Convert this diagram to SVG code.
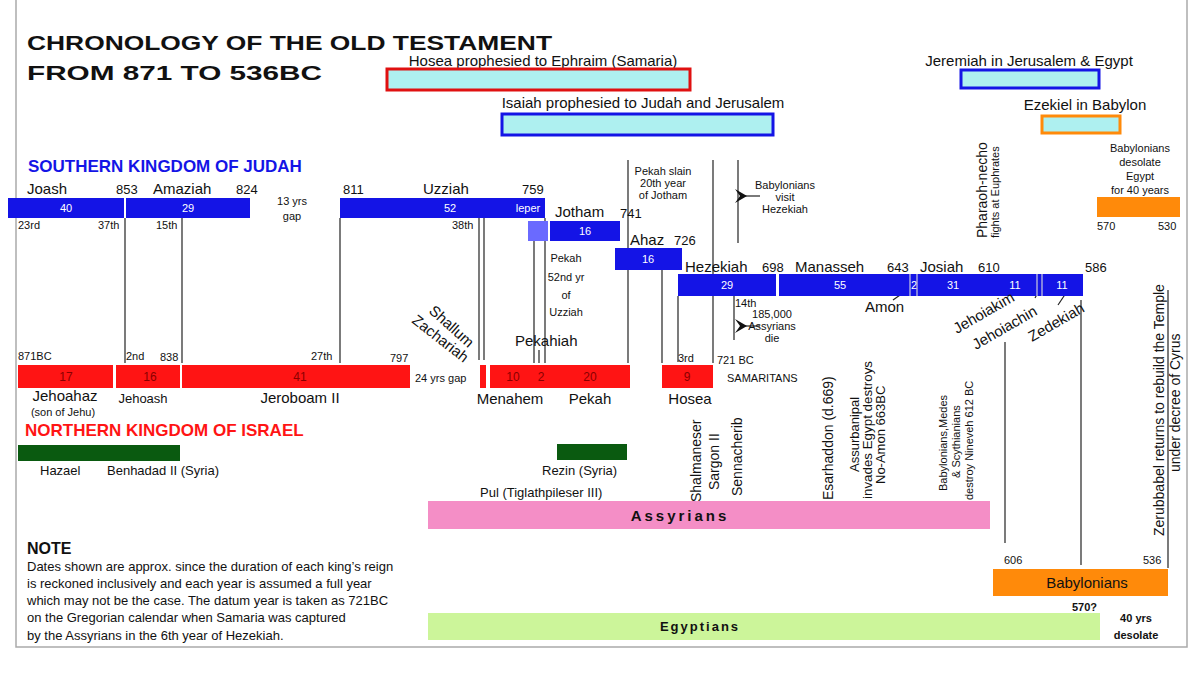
<svg xmlns="http://www.w3.org/2000/svg" width="1200" height="683" viewBox="0 0 1200 683">
<style>
text{font-family:"Liberation Sans",Arial,sans-serif;fill:#111}
.t{font-size:13px}.s{font-size:11px}.m{font-size:15px}.v{font-size:14px}
.b{font-weight:bold}
.w{fill:#fff;font-size:11px;text-anchor:middle}
.r{fill:#8a0000;font-size:12px;text-anchor:middle}
.c{text-anchor:middle}
.jb{fill:#1414e6}.ib{fill:#ff1414}
line{stroke:#222;stroke-width:1.2}
</style>
<defs><marker id="ah" markerWidth="12" markerHeight="14" refX="2" refY="7" orient="auto" markerUnits="userSpaceOnUse"><path d="M12,0 L0,7 L12,14 L7,7 z" fill="#111"/></marker></defs>
<rect x="0" y="0" width="1200" height="683" fill="#fff"/>
<rect x="16" y="-5" width="1171" height="652" fill="none" stroke="#aaa" stroke-width="1.5"/>
<g id="title"><text x="27" y="50" class="b" font-size="21" textLength="525" lengthAdjust="spacingAndGlyphs">CHRONOLOGY OF THE OLD TESTAMENT</text><text x="27" y="80" class="b" font-size="21" textLength="295" lengthAdjust="spacingAndGlyphs">FROM 871 TO 536BC</text></g>
<g id="prophets">
<text x="543" y="66" class="m c">Hosea prophesied to Ephraim (Samaria)</text><rect x="387" y="69" width="303" height="21" fill="#aef0f0" stroke="#e01010" stroke-width="3"/>
<text x="643" y="108" class="m c">Isaiah prophesied to Judah and Jerusalem</text><rect x="502" y="114" width="271" height="21" fill="#aef0f0" stroke="#1414e6" stroke-width="3"/>
<text x="1029" y="66" class="m c">Jeremiah in Jerusalem &amp; Egypt</text><rect x="961" y="70" width="138" height="18" fill="#aef0f0" stroke="#1414e6" stroke-width="3"/>
<text x="1085" y="110" class="m c">Ezekiel in Babylon</text><rect x="1042" y="116" width="78" height="17" fill="#aef0f0" stroke="#ff8a0a" stroke-width="3"/>
</g>
<g id="connectors">
<line x1="125" y1="218" x2="125" y2="363"/><line x1="182" y1="218" x2="182" y2="363"/><line x1="340" y1="218" x2="340" y2="363"/>
<line x1="479" y1="218" x2="479" y2="360"/><line x1="484" y1="218" x2="484" y2="360"/>
<line x1="534" y1="240" x2="534" y2="363"/><line x1="539" y1="350" x2="539" y2="363"/><line x1="545" y1="218" x2="545" y2="363"/>
<line x1="628" y1="160" x2="628" y2="363"/><line x1="713" y1="160" x2="713" y2="363"/><line x1="738" y1="160" x2="738" y2="243"/>
<line x1="662" y1="270" x2="662" y2="363"/><line x1="678" y1="296" x2="678" y2="362"/><line x1="734" y1="296" x2="734" y2="340"/>
<line x1="1005" y1="342" x2="1005" y2="543"/><line x1="1081" y1="300" x2="1081" y2="565"/><line x1="1168" y1="290" x2="1168" y2="568"/>
<line x1="893" y1="300" x2="910" y2="288"/><line x1="1025" y1="290" x2="1031" y2="280"/><line x1="1035" y1="298" x2="1042" y2="285"/><line x1="1058" y1="305" x2="1068" y2="290"/>
<line x1="760" y1="196" x2="745" y2="196" marker-end="url(#ah)"/><line x1="760" y1="326" x2="745" y2="326" marker-end="url(#ah)"/>
</g>
<g id="judah">
<text x="28" y="172" class="b" font-size="17" style="fill:#1414e6">SOUTHERN KINGDOM OF JUDAH</text>
<rect x="8" y="198" width="116" height="20" class="jb"/><text x="66" y="212" class="w">40</text>
<rect x="126" y="198" width="124" height="20" class="jb"/><text x="188" y="212" class="w">29</text>
<rect x="340" y="198" width="205" height="20" class="jb"/><text x="450" y="212" class="w">52</text><text x="528" y="212" class="w">leper</text>
<text x="27" y="194" class="m">Joash</text><text x="116" y="194" class="t">853</text><text x="153" y="194" class="m">Amaziah</text><text x="236" y="194" class="t">824</text>
<text x="292" y="205" class="s c">13 yrs</text><text x="292" y="220" class="s c">gap</text>
<text x="343" y="194" class="t">811</text><text x="423" y="194" class="m">Uzziah</text><text x="522" y="194" class="t">759</text>
<text x="18" y="229" class="s">23rd</text><text x="98" y="229" class="s">37th</text><text x="156" y="229" class="s">15th</text><text x="452" y="229" class="s">38th</text>
<rect x="528" y="221" width="20" height="20" fill="#6a6aff"/><rect x="550" y="221" width="70" height="20" class="jb"/><text x="585" y="235" class="w">16</text>
<text x="555" y="217" class="m">Jotham</text><text x="620" y="218" class="t">741</text>
<rect x="615" y="248" width="67" height="22" class="jb"/><text x="648" y="263" class="w">16</text><text x="630" y="245" class="m">Ahaz</text><text x="674" y="245" class="t">726</text>
<rect x="678" y="274" width="98" height="22" class="jb"/><text x="727" y="289" class="w">29</text>
<rect x="779" y="274" width="304" height="22" class="jb"/><text x="840" y="289" class="w">55</text><text x="914" y="289" class="w">2</text><text x="953" y="289" class="w">31</text><text x="1015" y="289" class="w">11</text><text x="1062" y="289" class="w">11</text>
<line x1="910" y1="274" x2="910" y2="296" style="stroke:#ccd"/><line x1="917" y1="274" x2="917" y2="296" style="stroke:#ccd"/><line x1="1037" y1="274" x2="1037" y2="296" style="stroke:#ccd"/><line x1="1042" y1="274" x2="1042" y2="296" style="stroke:#ccd"/>
<text x="685" y="272" class="m">Hezekiah</text><text x="762" y="272" class="t">698</text><text x="795" y="272" class="m">Manasseh</text><text x="887" y="272" class="t">643</text>
<text x="920" y="272" class="m">Josiah</text><text x="978" y="272" class="t">610</text><text x="1085" y="272" class="t">586</text>
<text x="865" y="312" class="m">Amon</text>
<text transform="translate(957,334) rotate(-30)" class="m">Jehoiakim</text>
<text transform="translate(976,350) rotate(-30)" class="m">Jehoiachin</text>
<text transform="translate(1032,342) rotate(-30)" class="m">Zedekiah</text>
</g>
<g id="israel">
<rect x="18" y="365" width="95" height="23" class="ib"/><text x="66" y="381" class="r">17</text>
<rect x="116" y="365" width="64" height="23" class="ib"/><text x="150" y="381" class="r">16</text>
<rect x="182" y="365" width="228" height="23" class="ib"/><text x="300" y="381" class="r">41</text>
<rect x="480" y="365" width="6" height="23" class="ib"/>
<rect x="490" y="365" width="140" height="23" class="ib"/><text x="513" y="381" class="r">10</text><text x="541" y="381" class="r">2</text><text x="590" y="381" class="r">20</text>
<rect x="662" y="365" width="51" height="23" class="ib"/><text x="687" y="381" class="r">9</text>
<text x="18" y="360" class="s">871BC</text><text x="126" y="360" class="s">2nd</text><text x="160" y="361" class="s">838</text><text x="311" y="360" class="s">27th</text><text x="390" y="362" class="s">797</text>
<text x="415" y="382" class="s">24 yrs gap</text><text x="515" y="346" class="m">Pekahiah</text>
<text x="678" y="362" class="s">3rd</text><text x="717" y="364" class="s">721 BC</text><text x="727" y="382" class="s">SAMARITANS</text>
<text x="65" y="401" class="m c">Jehoahaz</text><text x="63" y="416" class="s c" font-size="12">(son of Jehu)</text><text x="143" y="403" class="t c">Jehoash</text><text x="300" y="403" class="m c">Jeroboam II</text>
<text x="510" y="404" class="m c">Menahem</text><text x="590" y="404" class="m c">Pekah</text><text x="690" y="404" class="m c">Hosea</text>
<text transform="translate(428,312) rotate(42)" class="m">Shallum</text>
<text transform="translate(411,322) rotate(38)" class="m">Zachariah</text>
<text x="25" y="436" class="b" font-size="17" style="fill:#ff1414">NORTHERN KINGDOM OF ISRAEL</text>
</g>
<g id="notes">
<text x="663" y="175" class="s c">Pekah slain</text><text x="663" y="187" class="s c">20th year</text><text x="663" y="199" class="s c">of Jotham</text>
<text x="785" y="189" class="s c">Babylonians</text><text x="785" y="201" class="s c">visit</text><text x="785" y="213" class="s c">Hezekiah</text>
<text x="566" y="262" class="s c">Pekah</text><text x="566" y="281" class="s c">52nd yr</text><text x="566" y="299" class="s c">of</text><text x="566" y="316" class="s c">Uzziah</text>
<text x="735" y="307" class="s">14th</text><text x="772" y="318" class="s c">185,000</text><text x="772" y="330" class="s c">Assyrians</text><text x="772" y="342" class="s c">die</text>
<text x="1140" y="152" class="s c">Babylonians</text><text x="1140" y="166" class="s c">desolate</text><text x="1140" y="180" class="s c">Egypt</text><text x="1140" y="194" class="s c">for 40 years</text>
<rect x="1097" y="197" width="83" height="20" fill="#ff8a0a"/><text x="1097" y="230" class="s">570</text><text x="1158" y="230" class="s">530</text>
<text transform="translate(987,238) rotate(-90)" class="v">Pharaoh-necho</text><text transform="translate(999,238) rotate(-90)" class="s">fights at Euphrates</text>
</g>
<g id="empires">
<rect x="18" y="445" width="162" height="16" fill="#0a5a10"/><rect x="557" y="444" width="70" height="16" fill="#0a5a10"/>
<text x="40" y="475" class="t">Hazael</text><text x="107" y="475" class="t">Benhadad II (Syria)</text><text x="542" y="475" class="t">Rezin (Syria)</text><text x="480" y="497" class="t">Pul (Tiglathpileser III)</text>
<text transform="translate(701,502) rotate(-90)" class="v">Shalmaneser</text><text transform="translate(719,490) rotate(-90)" class="v">Sargon II</text><text transform="translate(742,496) rotate(-90)" class="v">Sennacherib</text>
<text transform="translate(833,500) rotate(-90)" class="v">Esarhaddon (d.669)</text>
<text transform="translate(859,472) rotate(-90)" class="t">Assurbanipal</text><text transform="translate(872,499) rotate(-90)" class="t" textLength="138" lengthAdjust="spacingAndGlyphs">invades Egypt destroys</text><text transform="translate(885,484) rotate(-90)" class="t">No-Amon 663BC</text>
<text transform="translate(947,491) rotate(-90)" class="s">Babylonians,Medes</text><text transform="translate(960,478) rotate(-90)" class="s">&amp; Scythianians</text><text transform="translate(973,500) rotate(-90)" class="s">destroy Nineveh 612 BC</text>
<text transform="translate(1164,536) rotate(-90)" class="v">Zerubbabel returns to rebuild the Temple</text><text transform="translate(1180,472) rotate(-90)" class="v">under decree of Cyrus</text>
<rect x="428" y="501" width="562" height="28" fill="#f48ec6"/><text x="680" y="521" class="m b" letter-spacing="3" text-anchor="middle">Assyrians</text>
<text x="1004" y="564" class="s">606</text><text x="1143" y="564" class="s">536</text>
<rect x="993" y="569" width="175" height="27" fill="#ff8a0a"/><text x="1087" y="588" class="m c">Babylonians</text>
<text x="1072" y="611" class="s b">570?</text>
<rect x="428" y="613" width="672" height="27" fill="#ccf59a"/><text x="700" y="631" class="t b" letter-spacing="2" text-anchor="middle">Egyptians</text>
<text x="1136" y="622" class="s b c">40 yrs</text><text x="1136" y="639" class="s b c">desolate</text>
</g>
<g id="note">
<text x="27" y="554" class="b" font-size="16">NOTE</text>
<text x="27" y="571" class="t">Dates shown are approx. since the duration of each king’s reign</text>
<text x="27" y="588" class="t">is reckoned inclusively and each year is assumed a full year</text>
<text x="27" y="605" class="t">which may not be the case.  The datum year is taken as 721BC</text>
<text x="27" y="622" class="t">on the Gregorian calendar when Samaria was captured</text>
<text x="27" y="640" class="t">by the Assyrians in the 6th year of Hezekiah.</text>
</g>
</svg>
